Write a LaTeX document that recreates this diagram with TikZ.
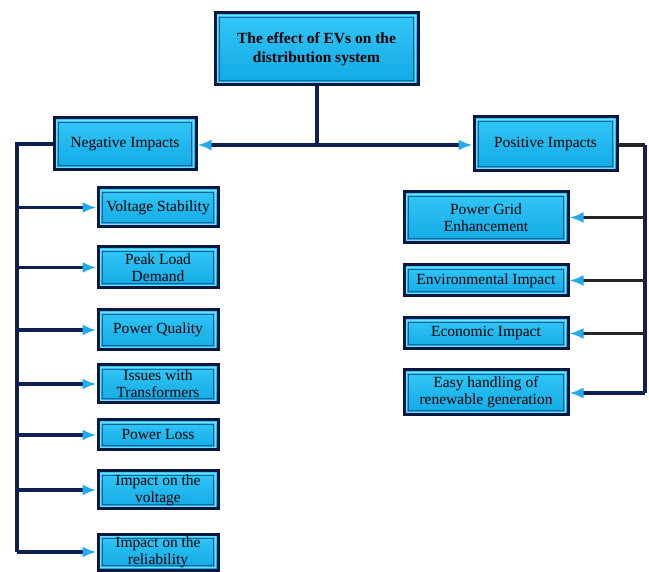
\documentclass[tikz,border=0pt]{standalone}
\usepackage{fontspec}
\setmainfont{Liberation Serif}
\usetikzlibrary{arrows.meta}
\definecolor{boxnavy}{RGB}{10,24,64}
\definecolor{boxtop}{RGB}{50,200,248}
\definecolor{boxbot}{RGB}{18,168,228}
\definecolor{bevel}{RGB}{8,100,150}
\definecolor{shine}{RGB}{120,220,250}
\definecolor{tipcyan}{RGB}{35,170,232}
\definecolor{linknavy}{RGB}{16,30,80}
\tikzset{
  box/.style={draw=boxnavy, line width=3pt, top color=boxtop, bottom color=boxbot,
    align=center, inner sep=0pt, font=\fontsize{15.5}{17}\selectfont,
    path picture={
      \draw[shine, line width=1.2pt]
        ([shift={(2.8pt,-2.8pt)}]path picture bounding box.north west) rectangle
        ([shift={(-2.8pt,2.8pt)}]path picture bounding box.south east);
      \draw[bevel, line width=0.9pt]
        ([shift={(4.8pt,-4.8pt)}]path picture bounding box.north west) rectangle
        ([shift={(-4.8pt,4.8pt)}]path picture bounding box.south east);}},
  link/.style={draw=linknavy, line width=3.2pt},
  blink/.style={draw=black!85, line width=3.4pt},
  tip/.style={-{Latex[length=14pt,width=11pt,color=tipcyan]}},
}
\begin{document}
\begin{tikzpicture}[x=1pt,y=-1pt]
\useasboundingbox (0,0) rectangle (649,572);

% root
\node[box, minimum width=203pt, minimum height=72pt, font=\fontsize{15.5}{19}\selectfont\bfseries]
  (root) at (316.5,49) {The effect of EVs on the\\distribution system};

% main branches
\node[box, minimum width=142pt, minimum height=52pt] (neg) at (125,144) {Negative Impacts};
\node[box, minimum width=143pt, minimum height=54pt] (pos) at (545.5,144) {Positive Impacts};

% negative impacts
\node[box, minimum width=120pt, minimum height=39pt] (vs) at (158,207.5) {Voltage Stability};
\node[box, minimum width=120pt, minimum height=41pt] (pl) at (158,267.5) {Peak Load\\Demand};
\node[box, minimum width=120pt, minimum height=40pt] (pq) at (158,330) {Power Quality};
\node[box, minimum width=120pt, minimum height=38pt] (it) at (158,384) {Issues with\\Transformers};
\node[box, minimum width=120pt, minimum height=30pt] (ls) at (158,435) {Power Loss};
\node[box, minimum width=120pt, minimum height=38pt] (iv) at (158,490) {Impact on the\\voltage};
\node[box, minimum width=120pt, minimum height=36pt] (ir) at (158,552) {Impact on the\\reliability};

% positive impacts
\node[box, minimum width=164pt, minimum height=51pt] (pg) at (486,217.5) {Power Grid\\Enhancement};
\node[box, minimum width=164pt, minimum height=31pt] (ei) at (486,280.5) {Environmental Impact};
\node[box, minimum width=164pt, minimum height=31pt] (ec) at (486,333.5) {Economic Impact};
\node[box, minimum width=164pt, minimum height=45pt] (eh) at (486,392.5) {Easy handling of\\renewable generation};

% trunks
\coordinate (hub) at (317,145);
\coordinate (ltop) at (17,144);
\coordinate (lbot) at (17,552);
\coordinate (rtop) at (645,145);
\coordinate (rbot) at (645,393);

\draw[link] (root.south -| hub) -- (hub);
\draw[link, tip] (hub) -- (neg.east |- hub);
\draw[link, tip] (hub) -- (pos.west |- hub);

\draw[link] (neg.west |- ltop) -- (ltop) -- (lbot);
\foreach \n in {vs,pl,pq,it,ls,iv,ir}
  \draw[link, tip] (\n.west -| ltop) -- (\n.west);

\draw[blink] (pos.east |- rtop) -- (rtop);
\draw[link] (rtop) -- (rbot);
\draw[blink, tip] (pg.east -| rtop) -- (pg.east);
\draw[blink, tip] (ei.east -| rtop) -- (ei.east);
\draw[blink, tip] (ec.east -| rtop) -- (ec.east);
\draw[link, tip] (rbot) -- (eh.east |- rbot);
\end{tikzpicture}
\end{document}
